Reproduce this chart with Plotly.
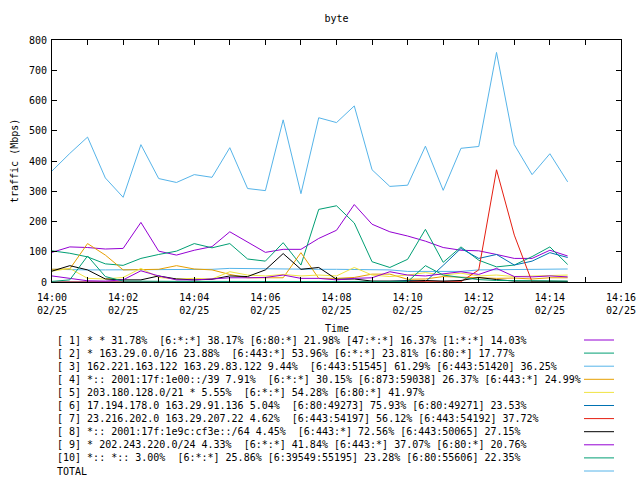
import plotly.graph_objects as go
import pandas as pd

times = pd.date_range("2023-02-25 14:00:00", periods=30, freq="30s")

s1 = [98,116,114,109,111,197,102,89,105,117,166,133,98,108,108,144,171,256,191,166,152,135,114,105,103,91,78,78,105,86]
s2 = [103,95,83,60,55,78,91,102,127,113,127,76,69,130,56,240,252,195,67,48,75,174,65,116,72,50,56,84,116,58]
s3 = [42,40,40,40,40,40,40,40,40,42,45,44,44,43,42,42,42,42,42,40,35,35,34,35,40,41,41,42,42,43]
s4 = [42,43,127,89,40,40,42,54,43,40,25,14,14,14,97,12,12,15,26,26,9,10,18,15,14,12,13,10,14,14]
s5 = [36,45,12,10,15,45,15,10,12,10,34,23,20,25,20,23,20,48,23,18,23,31,23,29,20,23,18,20,20,23]
s6 = [0,0,0,0,0,0,0,0,0,0,0,0,0,0,0,0,0,0,0,2,5,1,55,111,78,91,56,69,97,81]
s7 = [0,0,0,0,0,0,0,0,0,0,0,0,0,0,0,0,0,0,0,0,0,0,0,1,40,371,155,0,0,0]
s8 = [36,54,40,10,7,7,20,10,7,9,20,18,40,94,42,48,9,10,3,2,3,5,3,5,15,8,3,3,2,2]
s9 = [20,12,4,3,7,37,20,7,7,10,14,14,15,23,12,12,7,12,14,34,23,20,26,34,25,45,18,17,20,17]
s10 = [2,7,86,18,3,2,2,2,2,2,2,2,2,2,2,2,2,2,2,2,1,54,23,15,8,5,5,5,3,3]
total = [367,425,479,344,280,454,342,329,355,346,444,309,302,536,292,543,527,582,371,316,320,449,303,442,448,759,454,355,424,331]

series = [s1, s2, s3, s4, s5, s6, s7, s8, s9, s10, total]
labels = [
    "[ 1] * * 31.78%  [6:*:*] 38.17% [6:80:*] 21.98% [47:*:*] 16.37% [1:*:*] 14.03%",
    "[ 2] * 163.29.0.0/16 23.88%  [6:443:*] 53.96% [6:*:*] 23.81% [6:80:*] 17.77%",
    "[ 3] 162.221.163.122 163.29.83.122 9.44%  [6:443:51545] 61.29% [6:443:51420] 36.25%",
    "[ 4] *:: 2001:17f:1e00::/39 7.91%  [6:*:*] 30.15% [6:873:59038] 26.37% [6:443:*] 24.99%",
    "[ 5] 203.180.128.0/21 * 5.55%  [6:*:*] 54.28% [6:80:*] 41.97%",
    "[ 6] 17.194.178.0 163.29.91.136 5.04%  [6:80:49273] 75.93% [6:80:49271] 23.53%",
    "[ 7] 23.216.202.0 163.29.207.22 4.62%  [6:443:54197] 56.12% [6:443:54192] 37.72%",
    "[ 8] *:: 2001:17f:1e9c:cf3e::/64 4.45%  [6:443:*] 72.56% [6:443:50065] 27.15%",
    "[ 9] * 202.243.220.0/24 4.33%  [6:*:*] 41.84% [6:443:*] 37.07% [6:80:*] 20.76%",
    "[10] *:: *:: 3.00%  [6:*:*] 25.86% [6:39549:55195] 23.28% [6:80:55606] 22.35%",
    "TOTAL",
]
colors = ["#9400D3", "#009E73", "#56B4E9", "#E69F00", "#F0E442", "#0072B2",
          "#E51E10", "#000000", "#9400D3", "#009E73", "#56B4E9"]
y_ticks = [0, 100, 200, 300, 400, 500, 600, 700, 800]

FONT = "DejaVu Sans Mono"
W, H = 640, 480
PL, PR, PT, PB = 52, 621, 40, 282  # plot area in screen pixels
L, R, T, B = PL, W - PR, PT, H - PB
pw, ph = PR - PL, PB - PT

fig = go.Figure()
for vals, col in zip(series, colors):
    fig.add_trace(go.Scatter(x=times, y=vals, mode="lines",
                             line=dict(color=col, width=1), showlegend=False,
                             hoverinfo="skip"))

def py(ypx):
    return (PB - ypx) / ph

def px(xpx):
    return (xpx - PL) / pw

annotations = []
shapes = []
row0, dy = 340, 13.1
for k, (lab, col) in enumerate(zip(labels, colors)):
    yy = py(row0 + k * dy)
    annotations.append(dict(text=lab, x=px(55), y=yy, xref="paper", yref="paper",
                            xanchor="left", yanchor="middle", showarrow=False,
                            font=dict(family=FONT, size=10, color="black")))
    shapes.append(dict(type="line", xref="paper", yref="paper",
                       x0=px(584), x1=px(614), y0=yy, y1=yy,
                       line=dict(color=col, width=1)))

annotations.append(dict(text="Time", x=0.5, y=py(328), xref="paper", yref="paper",
                        xanchor="center", yanchor="middle", showarrow=False,
                        font=dict(family=FONT, size=10, color="black")))
annotations.append(dict(text="traffic (Mbps)", x=px(14), y=py(161), xref="paper",
                        yref="paper", xanchor="center", yanchor="middle",
                        showarrow=False, textangle=-90,
                        font=dict(family=FONT, size=10, color="black")))

fig.update_layout(
    width=W, height=H,
    margin=dict(l=L, r=R, t=T, b=B, pad=0, autoexpand=False),
    paper_bgcolor="white", plot_bgcolor="white",
    font=dict(family=FONT, size=10, color="black"),
    title=dict(text="byte", x=0.5, xref="paper", y=1 - 18 / H, yref="container",
               xanchor="center", yanchor="middle",
               font=dict(family=FONT, size=10, color="black")),
    annotations=annotations, shapes=shapes,
    xaxis=dict(
        range=["2023-02-25 14:00:00", "2023-02-25 14:16:00"],
        tickformat="%H:%M<br>%m/%d", dtick=120000, tick0="2023-02-25 14:00:00",
        ticks="inside", ticklen=5, tickcolor="black", tickwidth=1,
        showline=True, linecolor="black", linewidth=1, mirror="ticks",
        showgrid=False, zeroline=False, ticklabelstandoff=6, automargin=False,
        minor=dict(dtick=60000, ticks="inside", ticklen=5, tickcolor="black", showgrid=False),
        tickfont=dict(family=FONT, size=10, color="black"),
    ),
    yaxis=dict(
        range=[0, 800], tickvals=y_ticks,
        ticks="inside", ticklen=5, tickcolor="black", tickwidth=1,
        showline=True, linecolor="black", linewidth=1, mirror="ticks",
        showgrid=False, zeroline=False, ticklabelstandoff=2, automargin=False,
        tickfont=dict(family=FONT, size=10, color="black"),
    ),
)

fig.write_html("out.html",
               config={"displayModeBar": False},
               post_script="document.body.style.margin='0';"
                           "document.body.style.overflow='hidden';")
